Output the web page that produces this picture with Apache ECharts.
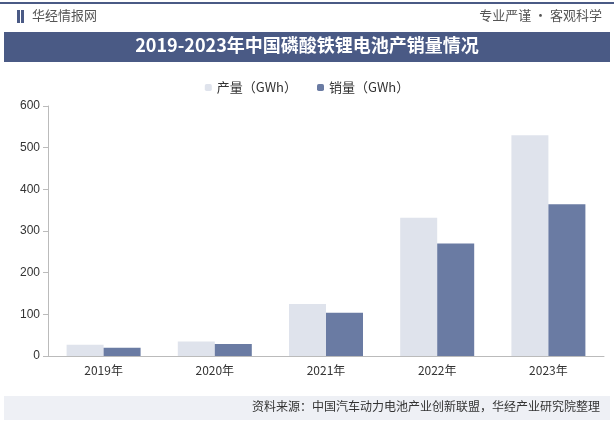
<!DOCTYPE html><html><head><meta charset="utf-8">
<script src="https://cdn.jsdelivr.net/npm/echarts@6/dist/echarts.min.js"></script>
<style>body{margin:0}#c{width:614px;height:424px}</style></head><body><div id="c"></div>
<script>
const categories=['2019年','2020年','2021年','2022年','2023年'];
const production=[27,35,125,332,530];
const sales=[20,29,104,270,364];
const yTicks=[0,100,200,300,400,500,600];
const F='"Noto Sans CJK SC"';
const chart=echarts.init(document.getElementById('c'));
chart.setOption({
 backgroundColor:'#fff',
 graphic:[
  {type:'rect',shape:{x:0,y:2,width:614,height:2},style:{fill:'#4a5a85'}},
  {type:'rect',shape:{x:17,y:10,width:3,height:13},style:{fill:'#4a5a85'}},
  {type:'rect',shape:{x:21,y:10,width:3,height:13},style:{fill:'#4a5a85'}},
  {type:'text',left:32,top:9,style:{text:'华经情报网',font:'13px '+F,fill:'#555'}},
  {type:'text',right:12,top:9,style:{text:'专业严谨 • 客观科学',font:'13px '+F,fill:'#555'}},
  {type:'rect',shape:{x:4,y:32,width:606,height:30},style:{fill:'#4a5a85'}},
  {type:'text',left:'center',top:36,style:{text:'2019-2023年中国磷酸铁锂电池产销量情况',font:'bold 18px '+F,fill:'#fff'}},
  {type:'rect',shape:{x:4,y:396,width:606,height:24},style:{fill:'#eef0f5'}},
  {type:'text',right:14,top:400,style:{text:'资料来源：中国汽车动力电池产业创新联盟，华经产业研究院整理',font:'12px '+F,fill:'#333'}}
 ],
 legend:{top:76,left:'center',itemWidth:7,itemHeight:7,itemGap:20,textStyle:{fontFamily:F,fontSize:13,color:'#333'}},
 grid:{left:48,right:10,top:106,bottom:68},
 xAxis:{type:'category',data:categories,axisTick:{show:false},axisLine:{lineStyle:{color:'#bbb'}},axisLabel:{color:'#333',fontSize:12,fontFamily:F}},
 yAxis:{type:'value',min:0,max:600,interval:100,splitLine:{show:false},axisLine:{show:true,lineStyle:{color:'#bbb'}},axisTick:{show:true,lineStyle:{color:'#bbb'}},axisLabel:{color:'#333',fontSize:12,formatter:v=>yTicks.includes(v)?String(v):''}},
 series:[
  {name:'产量（GWh）',type:'bar',data:production,barWidth:37,barGap:'0%',itemStyle:{color:'#dfe3ec'}},
  {name:'销量（GWh）',type:'bar',data:sales,barWidth:37,itemStyle:{color:'#6a7ba3'}}
 ]
});
</script></body></html>
